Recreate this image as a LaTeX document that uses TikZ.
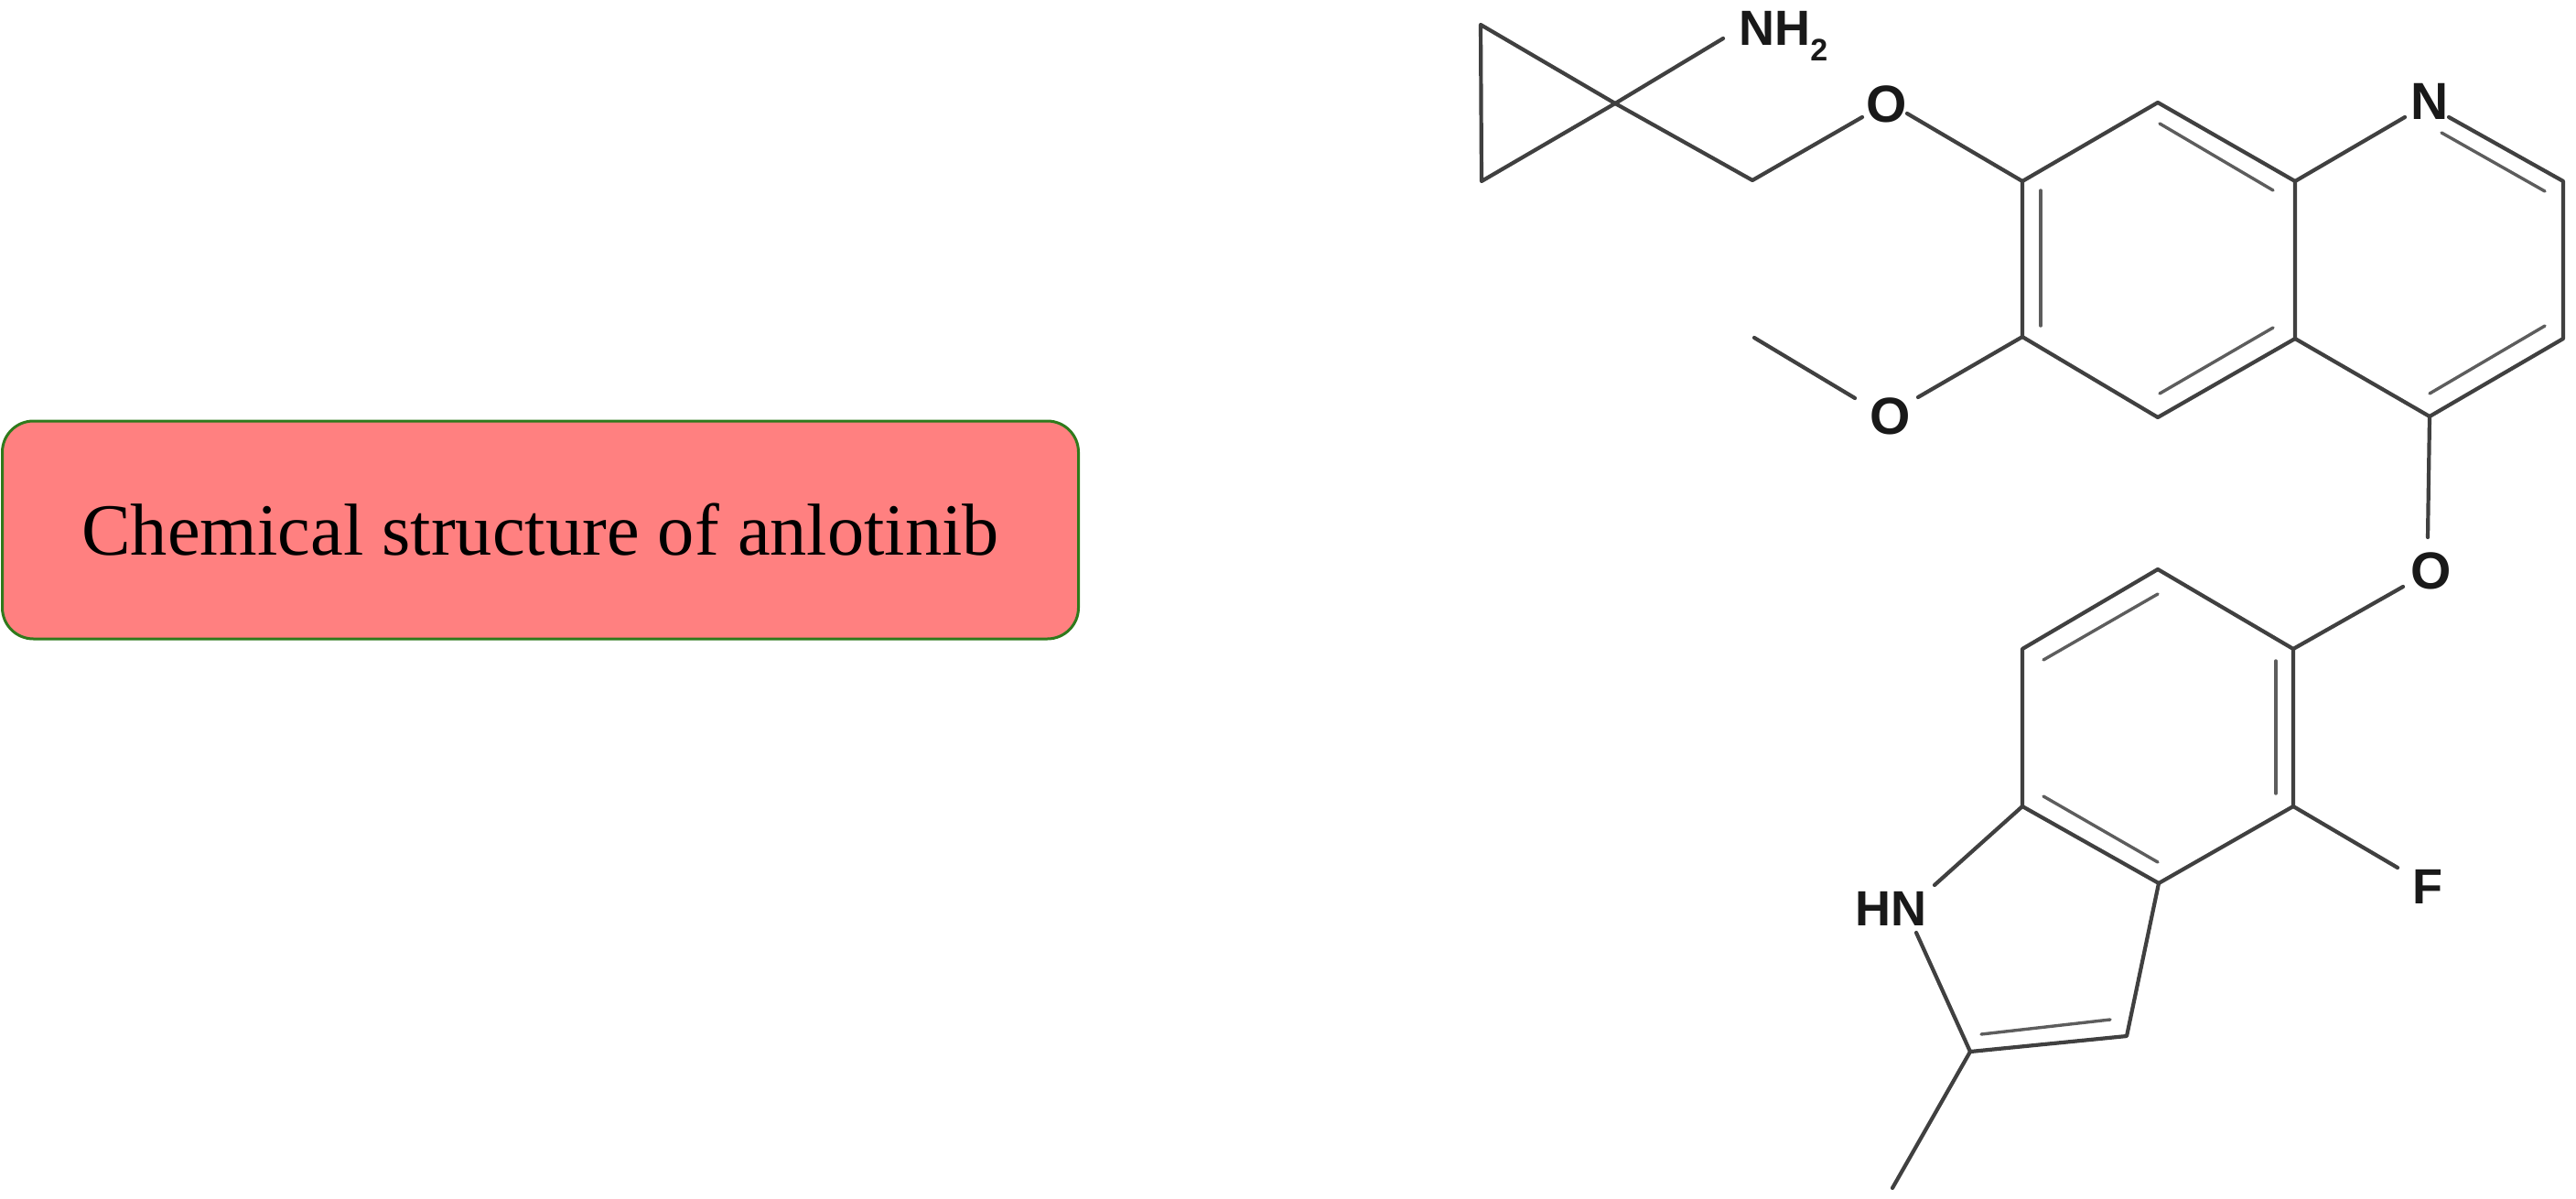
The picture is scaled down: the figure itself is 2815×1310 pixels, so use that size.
\documentclass[tikz,border=0pt]{standalone}
\usepackage{fontspec}
\setmainfont{Liberation Serif}
\newfontfamily\atomfont{Liberation Sans}
\definecolor{bond}{HTML}{404040}
\definecolor{boxfill}{HTML}{FF8080}
\definecolor{boxline}{HTML}{2F7A1C}
\tikzset{
  x=0.5pt,y=-0.5pt,
  bondline/.style={draw=bond,line width=2.1pt,line cap=round,line join=round},
  innerbond/.style={draw=bond!85,line width=1.7pt,line cap=round},
  atom/.style={inner sep=0pt,font=\atomfont\bfseries\fontsize{27}{27}\selectfont,text=black!90},
  atombig/.style={atom,font=\atomfont\bfseries\fontsize{28.5}{28.5}\selectfont},
  titlebox/.style={draw=boxline,fill=boxfill,line width=1.5pt,rounded corners=17pt,
    minimum width=588pt,minimum height=119pt,inner sep=0pt,
    font=\fontsize{40.2}{40.2}\selectfont,text=black}
}
\begin{document}
\begin{tikzpicture}
\useasboundingbox[fill=white] (0,0) rectangle (2815,1310);
\node[titlebox] (title) at (590.5,579) {Chemical structure of anlotinib};

% ring and chain vertices
\coordinate (cpa) at (1618,27);
\coordinate (cpb) at (1619,198);
\coordinate (cpc) at (1765,113);
\coordinate (nhend) at (1883,42);
\coordinate (ch2) at (1915,197);
\coordinate (oa1) at (2035,128);
\coordinate (oa2) at (2084,124);
\coordinate (c7) at (2210,198);
\coordinate (c8) at (2358,112);
\coordinate (c8a) at (2508,198);
\coordinate (n1a) at (2628,128);
\coordinate (n1b) at (2676,128);
\coordinate (c2) at (2801,198);
\coordinate (c3) at (2801,370);
\coordinate (c4) at (2655,455);
\coordinate (c4a) at (2508,370);
\coordinate (c5) at (2358,456);
\coordinate (c6) at (2210,368);
\coordinate (omb) at (2096,434);
\coordinate (oma) at (2027,435);
\coordinate (me) at (1917,369);
\coordinate (ob1) at (2653,587);
\coordinate (ob2) at (2626,641);
\coordinate (i5) at (2506,709);
\coordinate (i6) at (2358,622);
\coordinate (i7) at (2210,709);
\coordinate (i7a) at (2210,881);
\coordinate (i3a) at (2359,965);
\coordinate (i4) at (2506,881);
\coordinate (fend) at (2620,948);
\coordinate (hna) at (2114,967);
\coordinate (hnb) at (2094,1019);
\coordinate (i2) at (2153,1149);
\coordinate (i3) at (2324,1132);
\coordinate (meb) at (2068,1298);

% labels
\node[atom,anchor=base west] (nh) at (1900,50) {NH\raisebox{-0.3em}{\fontsize{17}{17}\selectfont 2}};
\node[atombig] (oa) at (2062,114) {O};
\node[atombig] (n) at (2655,111) {N};
\node[atombig] (om) at (2066,455) {O};
\node[atombig] (ob) at (2657,624) {O};
\node[atom,anchor=base west] (f) at (2636,987) {F};
\node[atom,anchor=base west] (hn) at (2027,1011) {HN};

% bonds
\draw[bondline] (cpa) -- (cpb) -- (cpc) -- cycle;
\draw[bondline] (cpc) -- (nhend);
\draw[bondline] (cpc) -- (ch2) -- (oa1);
\draw[bondline] (oa2) -- (c7) -- (c8) -- (c8a) -- (n1a);
\draw[bondline] (n1b) -- (c2) -- (c3) -- (c4) -- (c4a) -- (c8a);
\draw[bondline] (c4a) -- (c5) -- (c6) -- (c7);
\draw[bondline] (c6) -- (omb);
\draw[bondline] (oma) -- (me);
\draw[bondline] (c4) -- (ob1);
\draw[bondline] (ob2) -- (i5) -- (i6) -- (i7) -- (i7a) -- (i3a) -- (i4) -- (i5);
\draw[bondline] (i4) -- (fend);
\draw[bondline] (i7a) -- (hna);
\draw[bondline] (hnb) -- (i2) -- (i3) -- (i3a);
\draw[bondline] (i2) -- (meb);

% inner lines of double bonds
\coordinate (d1a) at (2360,135); \coordinate (d1b) at (2484,208);
\coordinate (d2a) at (2668,145); \coordinate (d2b) at (2781,209);
\coordinate (d3a) at (2230,208); \coordinate (d3b) at (2230,356);
\coordinate (d4a) at (2360,430); \coordinate (d4b) at (2484,358);
\coordinate (d5a) at (2655,430); \coordinate (d5b) at (2781,356);
\coordinate (d6a) at (2233,721); \coordinate (d6b) at (2358,649);
\coordinate (d7a) at (2487,722); \coordinate (d7b) at (2487,867);
\coordinate (d8a) at (2233,870); \coordinate (d8b) at (2358,942);
\coordinate (d9a) at (2165,1130); \coordinate (d9b) at (2306,1114);
\foreach \n in {1,...,9} \draw[innerbond] (d\n a) -- (d\n b);
\end{tikzpicture}
\end{document}
